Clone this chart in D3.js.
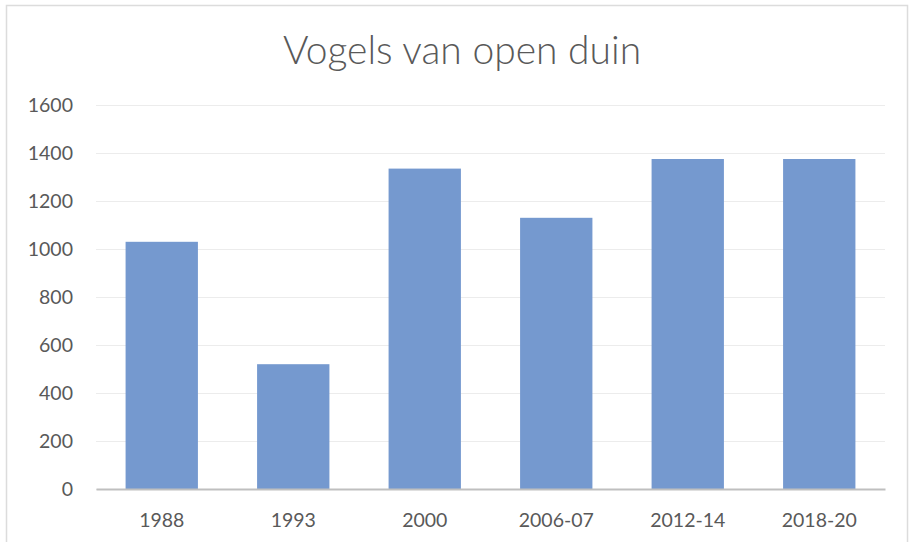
<!DOCTYPE html>
<html><head><meta charset="utf-8">
<script src="https://cdn.jsdelivr.net/npm/d3@7/dist/d3.min.js"></script>
<style>body{margin:0;background:#fff}svg{display:block}</style>
</head><body>
<svg id="c" width="910" height="542"></svg>
<script>
const categories = ["1988","1993","2000","2006-07","2012-14","2018-20"];
const values = [1030, 520, 1335, 1130, 1375, 1375];
const yTicks = [0,200,400,600,800,1000,1200,1400,1600];
const title = "Vogels van open duin";

const svg = d3.select("#c");
const font = "Lato, 'Open Sans', sans-serif";
svg.append("rect").attr("x",6.5).attr("y",5.5).attr("width",901).attr("height",545)
  .attr("fill","#fff").attr("stroke","#dcdcdc").attr("stroke-width",1.5);

const m = {l:96, r:885, t:105, b:489};
const x = d3.scaleBand().domain(categories).range([m.l,m.r]).paddingInner(0.45).paddingOuter(0.225);
const y = d3.scaleLinear().domain([0,1600]).range([m.b,m.t]);

const grid = svg.append("g").attr("transform",`translate(${m.l},0)`)
  .call(d3.axisLeft(y).tickValues(yTicks).tickSize(-(m.r-m.l)).tickFormat(""));
grid.select(".domain").remove();
grid.selectAll("line").attr("stroke","#ececec").attr("stroke-width",1);

svg.append("g").selectAll("rect").data(values).join("rect")
  .attr("x",(d,i)=>x(categories[i])).attr("width",x.bandwidth())
  .attr("y",d=>y(d)).attr("height",d=>y(0)-y(d)).attr("fill","#7599cf");

const ya = svg.append("g").attr("transform",`translate(${m.l},0)`)
  .call(d3.axisLeft(y).tickValues(yTicks).tickSize(0).tickPadding(23).tickFormat(d3.format("d")));
ya.select(".domain").remove();
ya.selectAll("text").attr("font-family",font).attr("font-size",19.5).attr("fill","#595959");

const xa = svg.append("g").attr("transform",`translate(0,${m.b})`)
  .call(d3.axisBottom(x).tickSize(0).tickPadding(24));
xa.select(".domain").attr("stroke","#bfbfbf").attr("stroke-width",2);
xa.selectAll("text").attr("font-family",font).attr("font-size",19.5).attr("fill","#595959");

svg.append("text").attr("x",462).attr("y",64).attr("text-anchor","middle")
  .attr("font-family",font).attr("font-weight",300).attr("font-size",39).attr("fill","#595959").text(title);
</script>
</body></html>
